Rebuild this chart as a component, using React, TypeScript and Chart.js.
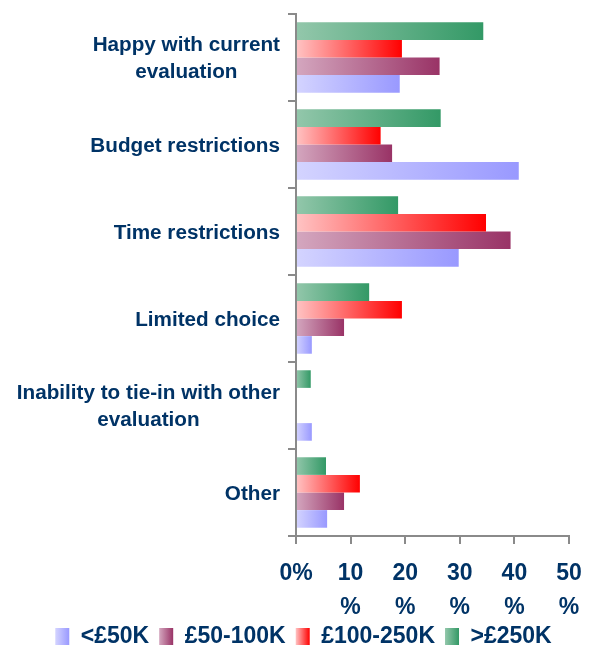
import React, { useEffect, useRef } from "react";
import { Chart, registerables } from "chart.js";

Chart.register(...registerables);

const categories: string[][] = [
  ["Happy with current", "evaluation"],
  ["Budget restrictions"],
  ["Time restrictions"],
  ["Limited choice"],
  ["Inability to tie-in with other", "evaluation"],
  ["Other"],
];

const seriesNames = [">£250K", "£100-250K", "£50-100K", "<£50K"];
const over250 = [34.3, 26.5, 18.7, 13.4, 2.7, 5.5];
const from100to250 = [19.4, 15.5, 34.8, 19.4, 0, 11.7];
const from50to100 = [26.3, 17.6, 39.3, 8.8, 0, 8.8];
const under50 = [19.0, 40.8, 29.8, 2.9, 2.9, 5.7];

const xTickLabels: string[][] = [["0%"], ["10", "%"], ["20", "%"], ["30", "%"], ["40", "%"], ["50", "%"]];

const lightColors = ["#93c7ab", "#ffc4c4", "#d4a7bf", "#d4d4ff"];
const darkColors = ["#339966", "#ff0000", "#993366", "#9999ff"];

const NAVY = "#003366";
const AXIS = "#8a8a8a";
const FONT = "Arial, 'Liberation Sans', sans-serif";

function gradientFill(i: number) {
  return (ctx: any) => {
    const chart = ctx.chart;
    if (!chart.chartArea || ctx.raw === undefined) return darkColors[i];
    const xs = chart.scales.x;
    const x0 = xs.getPixelForValue(0);
    const x1 = xs.getPixelForValue(ctx.raw);
    if (x1 - x0 < 1) return darkColors[i];
    const g = chart.ctx.createLinearGradient(x0, 0, x1, 0);
    g.addColorStop(0, lightColors[i]);
    g.addColorStop(1, darkColors[i]);
    return g;
  };
}

const categoryLabelPlugin = {
  id: "categoryLabels",
  afterDraw(chart: any) {
    const ctx = chart.ctx;
    const ys = chart.scales.y;
    const size = 20.7;
    const lineH = 27;
    const right = chart.chartArea.left - 16;
    ctx.save();
    ctx.font = `bold ${size}px ${FONT}`;
    ctx.fillStyle = NAVY;
    ctx.textAlign = "center";
    ctx.textBaseline = "alphabetic";
    categories.forEach((lines, i) => {
      const cy = ys.getPixelForValue(i);
      const w = Math.max(...lines.map((l) => ctx.measureText(l).width));
      const cx = right - w / 2;
      lines.forEach((l, j) => {
        const mid = cy + (j - (lines.length - 1) / 2) * lineH;
        ctx.fillText(l, cx, mid + (size * 0.716) / 2);
      });
    });
    ctx.restore();
  },
};

const legendBoxPlugin = {
  id: "legendBoxes",
  afterDraw(chart: any) {
    const lg = chart.legend;
    if (!lg || !lg.legendHitBoxes) return;
    const ctx = chart.ctx;
    const items = lg.legendItems || [];
    ctx.save();
    lg.legendHitBoxes.forEach((hb: any, k: number) => {
      const di = items[k].datasetIndex;
      const x = hb.left;
      const y = hb.top + 3;
      const g = ctx.createLinearGradient(x, 0, x + 14, 0);
      g.addColorStop(0, lightColors[di]);
      g.addColorStop(1, darkColors[di]);
      ctx.fillStyle = g;
      ctx.fillRect(x, y, 14, 17);
    });
    ctx.restore();
  },
};

export default function App() {
  const ref = useRef<HTMLCanvasElement | null>(null);
  useEffect(() => {
    if (!ref.current) return;
    const series = [over250, from100to250, from50to100, under50];
    const chart = new Chart(ref.current, {
      type: "bar",
      data: {
        labels: categories.map((c) => c.join(" ")),
        datasets: series.map((d, i) => ({
          label: seriesNames[i],
          data: d,
          backgroundColor: gradientFill(i),
          borderWidth: 0,
          categoryPercentage: 0.81,
          barPercentage: 1,
        })),
      },
      options: {
        indexAxis: "y",
        responsive: false,
        animation: false,
        layout: { padding: { left: 6, top: 6, right: -10, bottom: 0 } },
        scales: {
          x: {
            min: 0,
            max: 50,
            afterFit: (s: any) => {
              s.height = 79;
              s.paddingRight = 14;
            },
            ticks: {
              stepSize: 10,
              padding: 13,
              color: NAVY,
              font: { family: FONT, size: 23, weight: "bold", lineHeight: 1.47 },
              maxRotation: 0,
              autoSkip: false,
              callback: (_v: any, idx: number) => xTickLabels[idx],
            },
            grid: { drawOnChartArea: false, drawTicks: true, tickLength: 8, color: AXIS, lineWidth: 2 },
            border: { display: true, color: AXIS, width: 2 },
          },
          y: {
            afterFit: (s: any) => {
              s.width = 282;
            },
            ticks: { display: false },
            grid: { offset: true, drawOnChartArea: false, drawTicks: true, tickLength: 8, color: AXIS, lineWidth: 2 },
            border: { display: true, color: AXIS, width: 2 },
          },
        },
        plugins: {
          tooltip: { enabled: false },
          legend: {
            position: "bottom",
            reverse: true,
            labels: {
              boxWidth: 14,
              boxHeight: 17,
              padding: 10,
              color: NAVY,
              font: { family: FONT, size: 23, weight: "bold" },
              generateLabels: (chart: any) =>
                chart.data.datasets.map((ds: any, i: number) => ({
                  text: ds.label,
                  fillStyle: "rgba(0,0,0,0)",
                  strokeStyle: "rgba(0,0,0,0)",
                  lineWidth: 0,
                  fontColor: NAVY,
                  hidden: false,
                  datasetIndex: i,
                })),
            },
          },
        },
      },
      plugins: [categoryLabelPlugin, legendBoxPlugin],
    } as any);
    return () => chart.destroy();
  }, []);
  return (
    <div style={{ position: "absolute", top: 8, left: 8, width: 575, height: 637, overflow: "hidden" }}>
      <canvas ref={ref} width={575} height={650} style={{ display: "block" }} />
    </div>
  );
}
